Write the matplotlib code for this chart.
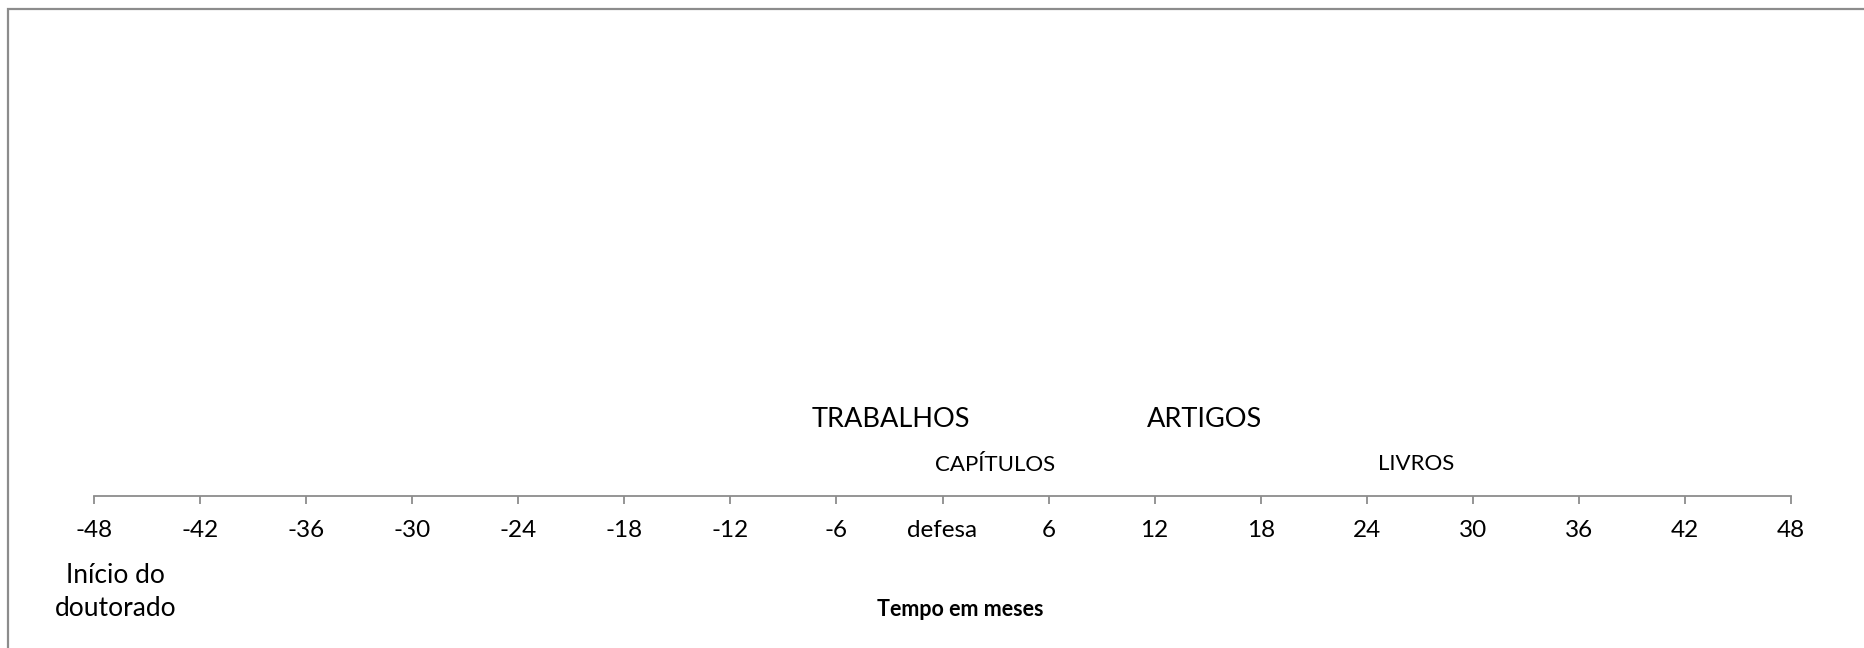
import matplotlib
matplotlib.use('Agg')
import matplotlib.pyplot as plt
from matplotlib.patches import Rectangle
from matplotlib.transforms import blended_transform_factory

# -- data
months = list(range(-48, 49, 6))
tick_labels = [str(m) if m != 0 else "defesa" for m in months]

big_labels = ["TRABALHOS", "ARTIGOS"]
big_x = [-2.9, 14.8]
big_y = [1.6, 1.6]

small_labels = ["CAPÍTULOS", "LIVROS"]
small_x = [3.0, 26.8]
small_y = [0.66, 0.68]

plt.rcParams['font.family'] = ['Lato', 'DejaVu Sans']
gray = "#8c8c8c"

W, H = 1865, 648
x0, x1 = 94, 1791      # pixel span of the axis
ytop, yax = 20, 496    # top of axes, axis line

fig = plt.figure(figsize=(W / 100, H / 100), dpi=100)

# -- outer frame (only top and left edges are visible in the crop)
fig.patches.append(Rectangle((8 / W, -0.5), 2.0, 1 - 9 / H + 0.5,
                             transform=fig.transFigure, fill=False,
                             edgecolor=gray, linewidth=1.6))

ax = fig.add_axes([x0 / W, 1 - yax / H, (x1 - x0) / W, (yax - ytop) / H])
ax.set_xlim(-48, 48)
ax.set_ylim(0, 10)
ax.set_facecolor("none")

for s in ("top", "left", "right"):
    ax.spines[s].set_visible(False)
ax.spines["bottom"].set_color(gray)
ax.spines["bottom"].set_linewidth(1.3)
ax.set_yticks([])
ax.set_xticks(months)
ax.set_xticklabels(tick_labels)
ax.tick_params(axis="x", direction="out", length=5.5, width=1.3, color=gray,
               labelsize=17.5, pad=12, labelcolor="black")

for lab, x, y in zip(big_labels, big_x, big_y):
    ax.text(x, y, lab, ha="center", va="center", fontsize=19.5)
for lab, x, y in zip(small_labels, small_x, small_y):
    ax.text(x, y, lab, ha="center", va="center", fontsize=16)

ah = yax - ytop
trans = blended_transform_factory(ax.transData, ax.transAxes)
ax.text(-46.8, -(592 - yax) / ah, "Início do\ndoutorado", transform=trans,
        ha="center", va="center", multialignment="center", fontsize=19,
        linespacing=1.4)

ax.set_xlabel("Tempo em meses", fontsize=15.5, fontweight="bold")
ax.xaxis.set_label_coords((960 - x0) / (x1 - x0), -(610 - yax) / ah)
ax.xaxis.label.set_va("center")

fig.savefig("out.png", dpi=100)
